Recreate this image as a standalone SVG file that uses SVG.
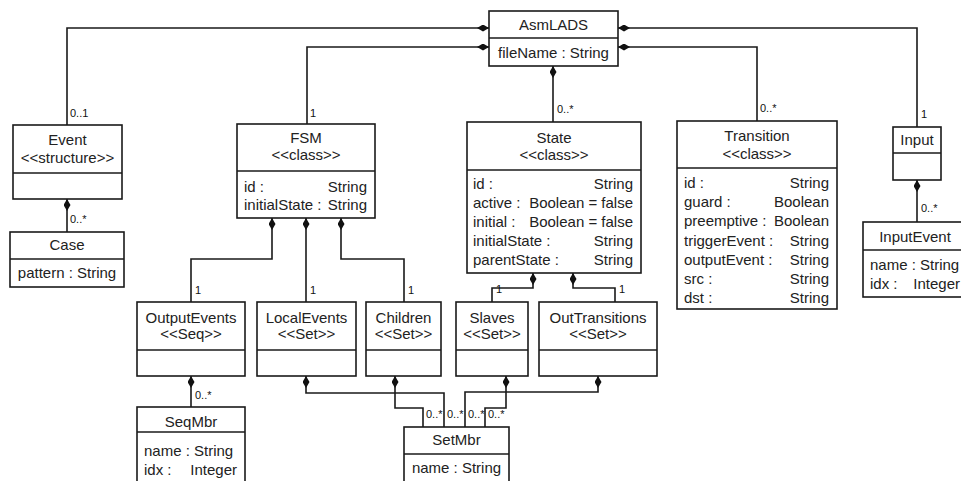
<svg xmlns="http://www.w3.org/2000/svg" width="961" height="481" viewBox="0 0 961 481">
<style>
  .box{fill:#fff;stroke:#1a1a1a;stroke-width:1.6}
  .div{stroke:#1a1a1a;stroke-width:1.6}
  .t{font-family:"Liberation Sans",Arial,sans-serif;font-size:15px;fill:#222}
  .c{text-anchor:middle}
  .r{text-anchor:end}
  .m{font-family:"Liberation Sans",Arial,sans-serif;font-size:11px;fill:#111}
  .conn path{fill:none;stroke:#1a1a1a;stroke-width:1.6;marker-start:url(#dia)}
</style>
<defs>
  <marker id="dia" viewBox="0 0 12 7" refX="0" refY="3.5" markerWidth="12" markerHeight="7" markerUnits="userSpaceOnUse" orient="auto">
    <path d="M0,3.5 L6,0 L12,3.5 L6,7 Z" fill="#111"/>
  </marker>
</defs>
<rect width="961" height="481" fill="#fff"/>

<g id="connectors" class="conn">
  <path d="M489,28 H67 V125"/>
  <path d="M489,47 H307 V124"/>
  <path d="M553,66 V122"/>
  <path d="M618,47 H757 V121"/>
  <path d="M618,28 H917 V127"/>
  <path d="M67,199 V232"/>
  <path d="M272,218 V259 H191 V302"/>
  <path d="M306,218 V302"/>
  <path d="M341,218 V259 H404 V302"/>
  <path d="M533,273 V288 H492 V302"/>
  <path d="M573,273 V288 H615 V302"/>
  <path d="M191,376 V407"/>
  <path d="M917,180 V222"/>
  <path d="M306,376 V393 H444 V427"/>
  <path d="M395,376 V408 H423 V427"/>
  <path d="M506,376 V408 H485 V427"/>
  <path d="M598,376 V392 H465 V427"/>
</g>

<g id="multiplicities">
  <text class="m" x="70" y="117">0..1</text>
  <text class="m" x="310" y="117">1</text>
  <text class="m" x="557" y="113">0..*</text>
  <text class="m" x="760" y="112">0..*</text>
  <text class="m" x="921" y="118">1</text>
  <text class="m" x="70" y="223">0..*</text>
  <text class="m" x="195" y="294">1</text>
  <text class="m" x="310" y="294">1</text>
  <text class="m" x="408" y="294">1</text>
  <text class="m" x="496" y="293">1</text>
  <text class="m" x="619" y="293">1</text>
  <text class="m" x="195" y="399">0..*</text>
  <text class="m" x="921" y="212">0..*</text>
  <text class="m" x="426" y="418">0..*</text>
  <text class="m" x="447" y="418">0..*</text>
  <text class="m" x="468" y="418">0..*</text>
  <text class="m" x="488" y="418">0..*</text>
</g>

<g id="AsmLADS">
  <rect class="box" x="489" y="11" width="129" height="55"/>
  <line class="div" x1="489" y1="38" x2="618" y2="38"/>
  <text class="t c" x="553.5" y="30">AsmLADS</text>
  <text class="t c" x="553.5" y="58">fileName : String</text>
</g>

<g id="Event">
  <rect class="box" x="13" y="125" width="109" height="74"/>
  <line class="div" x1="13" y1="173" x2="122" y2="173"/>
  <text class="t c" x="67.5" y="145">Event</text>
  <text class="t c" x="67.5" y="163">&lt;&lt;structure&gt;&gt;</text>
</g>

<g id="Case">
  <rect class="box" x="10" y="232" width="114" height="55"/>
  <line class="div" x1="10" y1="259" x2="124" y2="259"/>
  <text class="t c" x="67" y="250">Case</text>
  <text class="t c" x="67" y="278">pattern : String</text>
</g>

<g id="FSM">
  <rect class="box" x="237" y="124" width="138" height="94"/>
  <line class="div" x1="237" y1="171" x2="375" y2="171"/>
  <text class="t c" x="306" y="143">FSM</text>
  <text class="t c" x="306" y="160">&lt;&lt;class&gt;&gt;</text>
  <text class="t" x="244" y="192">id :</text>
  <text class="t r" x="367" y="192">String</text>
  <text class="t" x="244" y="210">initialState :</text>
  <text class="t r" x="367" y="210">String</text>
</g>

<g id="State">
  <rect class="box" x="467" y="122" width="174" height="151"/>
  <line class="div" x1="467" y1="170" x2="641" y2="170"/>
  <text class="t c" x="554" y="143">State</text>
  <text class="t c" x="554" y="160">&lt;&lt;class&gt;&gt;</text>
  <text class="t" x="473" y="189">id :</text>
  <text class="t r" x="633" y="189">String</text>
  <text class="t" x="473" y="208">active :</text>
  <text class="t r" x="633" y="208">Boolean = false</text>
  <text class="t" x="473" y="227">initial :</text>
  <text class="t r" x="633" y="227">Boolean = false</text>
  <text class="t" x="473" y="246">initialState :</text>
  <text class="t r" x="633" y="246">String</text>
  <text class="t" x="473" y="265">parentState :</text>
  <text class="t r" x="633" y="265">String</text>
</g>

<g id="Transition">
  <rect class="box" x="677" y="121" width="160" height="188"/>
  <line class="div" x1="677" y1="168" x2="837" y2="168"/>
  <text class="t c" x="757" y="141">Transition</text>
  <text class="t c" x="757" y="159">&lt;&lt;class&gt;&gt;</text>
  <text class="t" x="684" y="188">id :</text>
  <text class="t r" x="829" y="188">String</text>
  <text class="t" x="684" y="207">guard :</text>
  <text class="t r" x="829" y="207">Boolean</text>
  <text class="t" x="684" y="226">preemptive :</text>
  <text class="t r" x="829" y="226">Boolean</text>
  <text class="t" x="684" y="246">triggerEvent :</text>
  <text class="t r" x="829" y="246">String</text>
  <text class="t" x="684" y="265">outputEvent :</text>
  <text class="t r" x="829" y="265">String</text>
  <text class="t" x="684" y="284">src :</text>
  <text class="t r" x="829" y="284">String</text>
  <text class="t" x="684" y="303">dst :</text>
  <text class="t r" x="829" y="303">String</text>
</g>

<g id="Input">
  <rect class="box" x="893" y="127" width="48" height="53"/>
  <line class="div" x1="893" y1="153" x2="941" y2="153"/>
  <text class="t c" x="917" y="145">Input</text>
</g>

<g id="InputEvent">
  <rect class="box" x="863" y="222" width="106" height="75"/>
  <line class="div" x1="863" y1="250" x2="969" y2="250"/>
  <text class="t c" x="915" y="242">InputEvent</text>
  <text class="t" x="870" y="270">name : String</text>
  <text class="t" x="870" y="289">idx :</text>
  <text class="t r" x="960" y="289">Integer</text>
</g>

<g id="OutputEvents">
  <rect class="box" x="137" y="302" width="108" height="74"/>
  <line class="div" x1="137" y1="350" x2="245" y2="350"/>
  <text class="t c" x="191" y="323">OutputEvents</text>
  <text class="t c" x="191" y="339">&lt;&lt;Seq&gt;&gt;</text>
</g>

<g id="LocalEvents">
  <rect class="box" x="257" y="302" width="99" height="74"/>
  <line class="div" x1="257" y1="350" x2="356" y2="350"/>
  <text class="t c" x="306.5" y="323">LocalEvents</text>
  <text class="t c" x="306.5" y="339">&lt;&lt;Set&gt;&gt;</text>
</g>

<g id="Children">
  <rect class="box" x="366" y="302" width="75" height="74"/>
  <line class="div" x1="366" y1="350" x2="441" y2="350"/>
  <text class="t c" x="403.5" y="323">Children</text>
  <text class="t c" x="403.5" y="339">&lt;&lt;Set&gt;&gt;</text>
</g>

<g id="Slaves">
  <rect class="box" x="456" y="302" width="72" height="74"/>
  <line class="div" x1="456" y1="350" x2="528" y2="350"/>
  <text class="t c" x="492" y="323">Slaves</text>
  <text class="t c" x="492" y="339">&lt;&lt;Set&gt;&gt;</text>
</g>

<g id="OutTransitions">
  <rect class="box" x="539" y="302" width="118" height="74"/>
  <line class="div" x1="539" y1="350" x2="657" y2="350"/>
  <text class="t c" x="598" y="323">OutTransitions</text>
  <text class="t c" x="598" y="339">&lt;&lt;Set&gt;&gt;</text>
</g>

<g id="SeqMbr">
  <rect class="box" x="137" y="407" width="108" height="90"/>
  <line class="div" x1="137" y1="432" x2="245" y2="432"/>
  <text class="t c" x="191" y="427">SeqMbr</text>
  <text class="t" x="144" y="456">name : String</text>
  <text class="t" x="144" y="475">idx :</text>
  <text class="t r" x="237" y="475">Integer</text>
</g>

<g id="SetMbr">
  <rect class="box" x="404" y="427" width="105" height="70"/>
  <line class="div" x1="404" y1="454" x2="509" y2="454"/>
  <text class="t c" x="456.5" y="445">SetMbr</text>
  <text class="t c" x="456.5" y="473">name : String</text>
</g>
</svg>
